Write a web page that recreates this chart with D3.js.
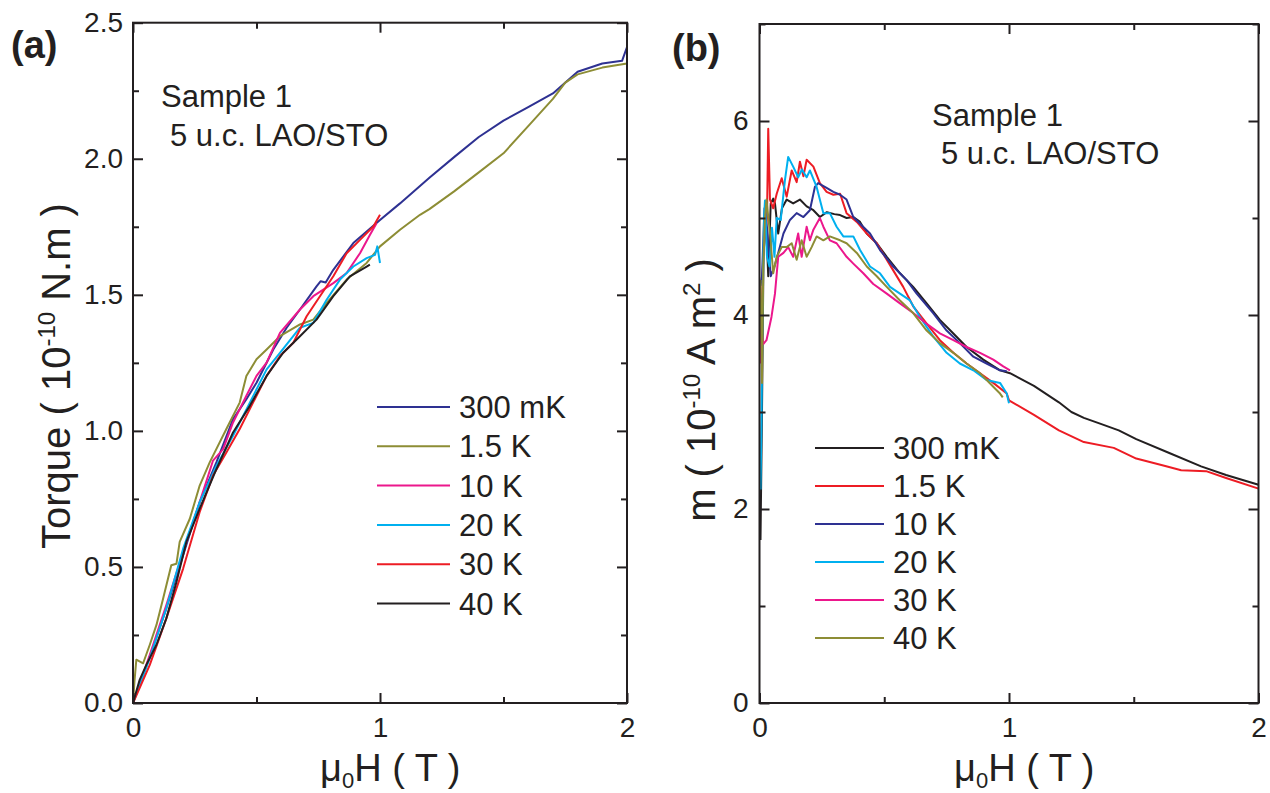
<!DOCTYPE html>
<html>
<head>
<meta charset="utf-8">
<script src="https://cdn.jsdelivr.net/npm/d3@7"></script>
<style>
  html, body { margin: 0; padding: 0; background: #fff; }
  svg { display: block; }
  text { font-family: "Liberation Sans", Arial, sans-serif; fill: #231f20; }
</style>
</head>
<body>
<svg id="chart" width="1270" height="793"></svg>
<script>
// ---------------- DATA ----------------
// Panel (a): torque (10^-10 N.m) vs mu0H (T)
const legendA = ["300 mK", "1.5 K", "10 K", "20 K", "30 K", "40 K"];
const colorsA = ["#2e3192", "#8d8d35", "#ec178c", "#00b0ef", "#ed1c24", "#231f20"];

const torque300mK = [[0,0],[0.02,0.05],[0.068,0.171],[0.135,0.348],[0.203,0.543],[0.27,0.738],[0.338,0.885],[0.405,1.043],[0.459,1.116],[0.5,1.177],[0.568,1.299],[0.622,1.379],[0.676,1.446],[0.743,1.531],[0.76,1.55],[0.78,1.545],[0.811,1.592],[0.892,1.69],[0.946,1.733],[1.0,1.775],[1.081,1.836],[1.2,1.93],[1.3,2.006],[1.4,2.08],[1.5,2.14],[1.6,2.19],[1.7,2.24],[1.8,2.32],[1.9,2.35],[1.98,2.36],[2.0,2.41]];
const torque1p5K = [[0,0],[0.006,0.08],[0.0135,0.159],[0.041,0.146],[0.068,0.214],[0.095,0.287],[0.122,0.384],[0.155,0.506],[0.176,0.512],[0.189,0.592],[0.23,0.677],[0.27,0.799],[0.311,0.885],[0.378,1.007],[0.432,1.104],[0.459,1.202],[0.5,1.263],[0.541,1.299],[0.595,1.348],[0.676,1.391],[0.73,1.409],[0.784,1.47],[0.865,1.556],[0.946,1.617],[1.0,1.678],[1.081,1.739],[1.162,1.794],[1.2,1.815],[1.3,1.88],[1.4,1.95],[1.5,2.02],[1.6,2.12],[1.7,2.22],[1.75,2.28],[1.8,2.31],[1.9,2.335],[2.0,2.35]];
const torque10K = [[0,0],[0.068,0.177],[0.135,0.36],[0.203,0.555],[0.27,0.738],[0.324,0.891],[0.365,0.933],[0.405,1.031],[0.459,1.129],[0.5,1.202],[0.541,1.251],[0.595,1.36],[0.676,1.446],[0.73,1.495],[0.811,1.543],[0.865,1.58],[0.919,1.653],[0.959,1.72],[0.986,1.763]];
const torque20K = [[0,0],[0.068,0.165],[0.135,0.348],[0.203,0.567],[0.27,0.738],[0.338,0.872],[0.405,0.982],[0.473,1.104],[0.541,1.226],[0.595,1.287],[0.676,1.379],[0.73,1.397],[0.784,1.482],[0.838,1.556],[0.892,1.604],[0.946,1.635],[0.98,1.647],[0.989,1.678],[1.0,1.617]];
const torque30K = [[0,0],[0.068,0.14],[0.135,0.311],[0.203,0.494],[0.27,0.702],[0.324,0.836],[0.378,0.921],[0.432,1.007],[0.486,1.104],[0.541,1.202],[0.595,1.275],[0.649,1.324],[0.703,1.421],[0.757,1.495],[0.811,1.568],[0.865,1.653],[0.919,1.702],[0.973,1.751],[1.0,1.794]];
const torque40K = [[0,0],[0.0135,0.043],[0.027,0.085],[0.054,0.14],[0.095,0.214],[0.135,0.311],[0.176,0.445],[0.216,0.592],[0.27,0.714],[0.338,0.86],[0.405,0.994],[0.473,1.092],[0.541,1.202],[0.608,1.287],[0.676,1.348],[0.743,1.409],[0.811,1.495],[0.878,1.568],[0.946,1.604],[0.959,1.611]];
const seriesA = [torque300mK, torque1p5K, torque10K, torque20K, torque30K, torque40K];

// Panel (b): m (10^-10 A m^2) vs mu0H (T)
const legendB = ["300 mK", "1.5 K", "10 K", "20 K", "30 K", "40 K"];
const colorsB = ["#231f20", "#ed1c24", "#2e3192", "#00b0ef", "#ec178c", "#8d8d35"];

const moment300mK = [[0.004,1.68],[0.01,3.0],[0.016,4.6],[0.025,5.05],[0.035,4.4],[0.045,5.15],[0.055,5.2],[0.062,5.15],[0.075,4.84],[0.09,5.1],[0.109,5.19],[0.135,5.15],[0.162,5.19],[0.189,5.12],[0.216,5.08],[0.242,5.01],[0.27,5.06],[0.3,5.04],[0.323,5.03],[0.349,5.0],[0.376,5.01],[0.403,4.96],[0.43,4.84],[0.47,4.74],[0.51,4.6],[0.563,4.43],[0.616,4.29],[0.67,4.12],[0.723,3.95],[0.777,3.81],[0.83,3.67],[0.897,3.54],[0.964,3.43],[1.004,3.4],[1.1,3.27],[1.2,3.1],[1.25,3.0],[1.3,2.94],[1.365,2.88],[1.44,2.81],[1.51,2.72],[1.64,2.58],[1.77,2.44],[1.87,2.35],[2.0,2.25]];
const moment1p5K = [[0.005,3.7],[0.015,4.6],[0.025,4.9],[0.03,5.0],[0.035,5.92],[0.042,5.19],[0.055,5.1],[0.069,5.25],[0.089,5.41],[0.109,5.22],[0.129,5.49],[0.149,5.37],[0.162,5.58],[0.176,5.43],[0.189,5.6],[0.216,5.53],[0.242,5.36],[0.269,5.27],[0.296,5.24],[0.323,5.25],[0.349,5.05],[0.39,4.96],[0.43,4.84],[0.47,4.74],[0.51,4.57],[0.536,4.46],[0.576,4.29],[0.616,4.09],[0.67,3.91],[0.723,3.74],[0.777,3.61],[0.83,3.5],[0.884,3.4],[0.937,3.3],[0.991,3.19],[1.0,3.12],[1.1,2.97],[1.2,2.81],[1.3,2.69],[1.42,2.63],[1.51,2.52],[1.63,2.44],[1.69,2.4],[1.79,2.39],[1.87,2.32],[2.0,2.21]];
const moment10K = [[0.004,4.3],[0.01,4.4],[0.02,5.1],[0.03,4.9],[0.045,4.4],[0.06,4.5],[0.075,4.64],[0.096,4.84],[0.122,4.98],[0.149,5.05],[0.176,5.01],[0.202,5.08],[0.222,5.32],[0.235,5.36],[0.269,5.31],[0.296,5.27],[0.323,5.24],[0.349,5.19],[0.376,5.01],[0.403,4.94],[0.443,4.84],[0.483,4.67],[0.536,4.5],[0.59,4.36],[0.63,4.22],[0.696,4.02],[0.75,3.84],[0.803,3.71],[0.857,3.57],[0.91,3.5],[0.964,3.43],[0.991,3.42]];
const moment20K = [[0.004,2.2],[0.008,2.9],[0.012,4.0],[0.018,5.0],[0.022,5.18],[0.03,4.6],[0.04,4.5],[0.05,4.9],[0.06,4.6],[0.069,5.0],[0.085,4.98],[0.102,5.39],[0.115,5.63],[0.135,5.53],[0.155,5.42],[0.17,5.5],[0.189,5.42],[0.202,5.49],[0.229,5.32],[0.256,5.05],[0.282,5.05],[0.309,4.91],[0.336,4.81],[0.376,4.81],[0.403,4.67],[0.443,4.5],[0.483,4.43],[0.523,4.29],[0.563,4.22],[0.603,4.15],[0.643,3.98],[0.696,3.78],[0.75,3.61],[0.803,3.5],[0.857,3.43],[0.91,3.33],[0.964,3.3],[0.991,3.19],[1.0,3.09]];
const moment30K = [[0.004,3.5],[0.008,3.84],[0.015,3.7],[0.028,3.74],[0.048,3.98],[0.062,4.22],[0.075,4.6],[0.096,4.64],[0.115,4.7],[0.135,4.6],[0.155,4.84],[0.169,4.6],[0.189,4.91],[0.202,4.77],[0.216,4.88],[0.242,5.0],[0.256,4.91],[0.282,4.77],[0.309,4.74],[0.349,4.6],[0.376,4.53],[0.416,4.43],[0.456,4.32],[0.51,4.22],[0.563,4.12],[0.616,4.02],[0.67,3.91],[0.723,3.81],[0.777,3.74],[0.83,3.67],[0.884,3.61],[0.937,3.54],[0.977,3.47],[1.004,3.43]];
const moment40K = [[0.004,4.36],[0.01,3.3],[0.015,4.5],[0.022,5.0],[0.028,5.19],[0.042,4.84],[0.055,4.43],[0.069,4.6],[0.089,4.7],[0.109,4.7],[0.129,4.74],[0.149,4.57],[0.169,4.77],[0.189,4.6],[0.209,4.7],[0.229,4.81],[0.256,4.77],[0.282,4.81],[0.323,4.77],[0.349,4.74],[0.39,4.64],[0.43,4.5],[0.47,4.4],[0.51,4.29],[0.563,4.15],[0.616,4.02],[0.67,3.84],[0.723,3.71],[0.777,3.61],[0.83,3.5],[0.884,3.4],[0.937,3.26],[0.964,3.19],[0.975,3.15]];
const seriesB = [moment300mK, moment1p5K, moment10K, moment20K, moment30K, moment40K];

// Ticks
const xMajor = [0, 1, 2];
const xMinor = [0.5, 1.5];
const yMajorA = [0, 0.5, 1.0, 1.5, 2.0, 2.5];
const yMinorA = [0.25, 0.75, 1.25, 1.75, 2.25];
const yMajorB = [0, 2, 4, 6];
const yMinorB = [1, 3, 5, 7];

// ---------------- DRAW ----------------
const svg = d3.select("#chart");
const ink = "#231f20";

function panel(cfg) {
  const x = d3.scaleLinear().domain(cfg.xDomain).range([cfg.left, cfg.right]);
  const y = d3.scaleLinear().domain(cfg.yDomain).range([cfg.bottom, cfg.top]);
  const g = svg.append("g");

  const line = d3.line().x(d => x(d[0])).y(d => y(d[1]));
  cfg.series.forEach((s, i) => {
    g.append("path").datum(s).attr("d", line)
      .attr("fill", "none").attr("stroke", cfg.colors[i])
      .attr("stroke-width", 2).attr("stroke-linejoin", "round");
  });

  function styleAxis(sel) {
    sel.select(".domain").remove();
    sel.selectAll("line").attr("stroke", ink).attr("stroke-width", 2);
    sel.selectAll("text").style("font-size", "28px").attr("fill", ink);
  }
  g.append("g").attr("transform", `translate(0,${cfg.bottom})`)
    .call(d3.axisBottom(x).tickValues(xMajor).tickSize(-10).tickPadding(14).tickFormat(d3.format("d"))).call(styleAxis);
  g.append("g").attr("transform", `translate(0,${cfg.bottom})`)
    .call(d3.axisBottom(x).tickValues(xMinor).tickSize(-6).tickFormat("")).call(styleAxis);
  g.append("g").attr("transform", `translate(0,${cfg.top})`)
    .call(d3.axisTop(x).tickValues(xMajor).tickSize(-10).tickFormat("")).call(styleAxis);
  g.append("g").attr("transform", `translate(0,${cfg.top})`)
    .call(d3.axisTop(x).tickValues(xMinor).tickSize(-6).tickFormat("")).call(styleAxis);
  g.append("g").attr("transform", `translate(${cfg.left},0)`)
    .call(d3.axisLeft(y).tickValues(cfg.yMajor).tickSize(-10).tickPadding(cfg.yPad).tickFormat(cfg.yFmt)).call(styleAxis);
  g.append("g").attr("transform", `translate(${cfg.left},0)`)
    .call(d3.axisLeft(y).tickValues(cfg.yMinor).tickSize(-6).tickFormat("")).call(styleAxis);
  g.append("g").attr("transform", `translate(${cfg.right},0)`)
    .call(d3.axisRight(y).tickValues(cfg.yMajor).tickSize(-10).tickFormat("")).call(styleAxis);
  g.append("g").attr("transform", `translate(${cfg.right},0)`)
    .call(d3.axisRight(y).tickValues(cfg.yMinor).tickSize(-6).tickFormat("")).call(styleAxis);

  g.append("rect").attr("x", cfg.left).attr("y", cfg.top)
    .attr("width", cfg.right - cfg.left).attr("height", cfg.bottom - cfg.top)
    .attr("fill", "none").attr("stroke", ink).attr("stroke-width", 2);

  cfg.legend.forEach((name, i) => {
    const yy = cfg.legY + i * cfg.legDy;
    g.append("line").attr("x1", cfg.legX1).attr("x2", cfg.legX2).attr("y1", yy).attr("y2", yy)
      .attr("stroke", cfg.colors[i]).attr("stroke-width", 2);
    g.append("text").attr("x", cfg.legTx).attr("y", yy + 11).style("font-size", "31px").text(name);
  });

  g.append("text").attr("x", cfg.s1x).attr("y", cfg.s1y).style("font-size", "31px").text("Sample 1");
  g.append("text").attr("x", cfg.s2x).attr("y", cfg.s2y).style("font-size", "31px").text("5 u.c. LAO/STO");

  g.append("text").attr("x", cfg.letX).attr("y", cfg.letY)
    .style("font-size", "38px").style("font-weight", "bold").text(cfg.letter);

  const xt = g.append("text").attr("x", cfg.xtX).attr("y", 781).style("font-size", "38px");
  xt.append("tspan").text("\u03bc");
  xt.append("tspan").attr("dy", 7).style("font-size", "22px").text("0");
  xt.append("tspan").attr("dy", -7).text("H ( T )");

  const yt = g.append("text").attr("transform", `translate(${cfg.ytX},${cfg.ytY}) rotate(-90)`)
    .attr("text-anchor", "middle").style("font-size", "40px");
  cfg.yTitle(yt);
  return g;
}

panel({
  left: 133, right: 627, top: 22.7, bottom: 703,
  xDomain: [0, 2], yDomain: [0, 2.5],
  series: seriesA, colors: colorsA, legend: legendA,
  yMajor: yMajorA, yMinor: yMinorA, yFmt: d3.format(".1f"), yPad: 10,
  legX1: 377, legX2: 450, legTx: 459, legY: 407, legDy: 39.3,
  s1x: 161, s1y: 107, s2x: 170, s2y: 146,
  letter: "(a)", letX: 11, letY: 58,
  xtX: 320, ytX: 70, ytY: 376,
  yTitle: t => {
    t.append("tspan").text("Torque ( 10");
    t.append("tspan").attr("dy", -15).style("font-size", "24px").text("-10");
    t.append("tspan").attr("dy", 15).text(" N.m )");
  }
});

panel({
  left: 759.5, right: 1258.5, top: 24, bottom: 703,
  xDomain: [0, 2], yDomain: [0, 7],
  series: seriesB, colors: colorsB, legend: legendB,
  yMajor: yMajorB, yMinor: yMinorB, yFmt: d3.format("d"), yPad: 11,
  legX1: 815, legX2: 884, legTx: 893, legY: 448, legDy: 38,
  s1x: 932, s1y: 126, s2x: 941, s2y: 164,
  letter: "(b)", letX: 672, letY: 61,
  xtX: 954, ytX: 715, ytY: 390,
  yTitle: t => {
    t.append("tspan").text("m ( 10");
    t.append("tspan").attr("dy", -15).style("font-size", "24px").text("-10");
    t.append("tspan").attr("dy", 15).text(" A m");
    t.append("tspan").attr("dy", -15).style("font-size", "24px").text("2");
    t.append("tspan").attr("dy", 15).text(" )");
  }
});
</script>
</body>
</html>
